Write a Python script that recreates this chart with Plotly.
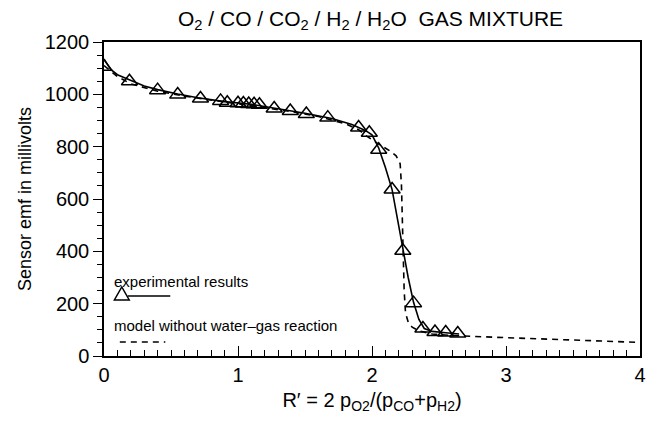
import plotly.graph_objects as go

# Experimental results (triangles)
exp_x = [0.0, 0.19, 0.40, 0.55, 0.72, 0.87, 0.92, 1.00, 1.04, 1.08, 1.12, 1.16,
         1.27, 1.39, 1.51, 1.67, 1.90, 1.98, 2.05, 2.15, 2.23, 2.31, 2.38, 2.47, 2.55, 2.64]
exp_y = [1105, 1050, 1016, 999, 984, 975, 968, 966, 965, 963, 962, 960,
         946, 936, 925, 911, 873, 853, 788, 636, 402, 202, 105, 92, 90, 86]

# Solid curve through experimental results
fit_x = [0.0, 0.05, 0.1, 0.2, 0.3, 0.4, 0.55, 0.7, 0.9, 1.1, 1.3, 1.5, 1.7, 1.85,
         1.95, 2.0, 2.05, 2.1, 2.15, 2.19, 2.23, 2.27, 2.31, 2.35, 2.39, 2.45, 2.55, 2.65]
fit_y = [1135, 1095, 1075, 1052, 1032, 1018, 1001, 987, 972, 962, 946, 928, 908, 885,
         862, 845, 795, 720, 636, 520, 402, 300, 205, 140, 105, 94, 89, 84]

# Model without water-gas reaction (dashed)
model_x = [0.0, 0.1, 0.2, 0.4, 0.6, 0.8, 1.0, 1.2, 1.4, 1.6, 1.8, 1.9, 1.96, 2.05,
           2.13, 2.18, 2.21, 2.22, 2.23, 2.24, 2.25, 2.27, 2.3, 2.35, 2.45, 2.6, 3.0, 3.5, 4.0]
model_y = [1110, 1068, 1040, 1012, 993, 978, 963, 950, 934, 915, 888, 865, 840, 810,
           785, 765, 735, 650, 450, 250, 165, 130, 110, 96, 84, 78, 70, 60, 52]

x_ticks = [0, 1, 2, 3, 4]
y_ticks = [0, 200, 400, 600, 800, 1000, 1200]

FONT = "Liberation Sans, Arial, sans-serif"

fig = go.Figure()
fig.add_trace(go.Scatter(x=model_x, y=model_y, mode="lines",
                         line=dict(color="black", width=1.6, dash="6px,5px"),
                         showlegend=False, hoverinfo="skip"))
fig.add_trace(go.Scatter(x=fit_x, y=fit_y, mode="lines",
                         line=dict(color="black", width=1.6),
                         showlegend=False, hoverinfo="skip"))
fig.add_trace(go.Scatter(x=exp_x, y=exp_y, mode="markers",
                         marker=dict(symbol="triangle-up-open", size=14, color="black",
                                     line=dict(color="black", width=1.5)),
                         showlegend=False))

fig.update_xaxes(range=[0, 4], tickvals=x_ticks, ticks="inside", ticklen=10, tickwidth=1.3,
                 tickcolor="black", showline=True, linecolor="black", linewidth=1.5,
                 mirror=True, showgrid=False, zeroline=False,
                 minor=dict(dtick=0.1, ticks="inside", ticklen=6, tickwidth=1.2, tickcolor="black", showgrid=False),
                 tickfont=dict(family=FONT, size=20, color="black"),
                 title=dict(text="R′ = 2 p<sub>O2</sub>/(p<sub>CO</sub>+p<sub>H2</sub>)",
                            font=dict(family=FONT, size=20, color="black"), standoff=8))
fig.update_yaxes(range=[0, 1200], tickvals=y_ticks, ticks="outside", ticklen=9, tickwidth=1.3,
                 tickcolor="black", showline=True, linecolor="black", linewidth=1.5,
                 mirror=True, showgrid=False, zeroline=False,
                 minor=dict(dtick=50, ticks="outside", ticklen=5, tickwidth=1.2, tickcolor="black", showgrid=False),
                 tickfont=dict(family=FONT, size=20, color="black"),
                 title=dict(text="Sensor emf in millivolts",
                            font=dict(family=FONT, size=18, color="black"), standoff=8))

# Legend drawn manually (paper coordinates)
pw, ph, x0, y0 = 542.0, 314.0, 104.0, 356.0
def px(v):
    return (v - x0) / pw
def py(v):
    return (y0 - v) / ph

shapes = [
    dict(type="path", xref="paper", yref="paper",
         path=f"M {px(114.5)},{py(300)} L {px(129.5)},{py(300)} L {px(122)},{py(287)} Z",
         line=dict(color="black", width=1.5)),
    dict(type="line", xref="paper", yref="paper", x0=px(128), x1=px(171), y0=py(296), y1=py(296),
         line=dict(color="black", width=1.6)),
    dict(type="line", xref="paper", yref="paper", x0=px(120), x1=px(166), y0=py(342), y1=py(342),
         line=dict(color="black", width=1.6, dash="6px,5px")),
]
annotations = [
    dict(text="experimental results", xref="paper", yref="paper", x=px(112), y=py(281),
         xanchor="left", yanchor="middle", showarrow=False,
         font=dict(family=FONT, size=15, color="black")),
    dict(text="model without water–gas reaction", xref="paper", yref="paper", x=px(112), y=py(325),
         xanchor="left", yanchor="middle", showarrow=False,
         font=dict(family=FONT, size=15, color="black")),
    dict(text="O<sub>2</sub> / CO / CO<sub>2</sub> / H<sub>2</sub> / H<sub>2</sub>O&nbsp;&nbsp;GAS MIXTURE",
         xref="paper", yref="paper", x=px(373), y=py(20), xanchor="center", yanchor="middle",
         showarrow=False, font=dict(family=FONT, size=21, color="black")),
]

fig.update_layout(width=658, height=422, margin=dict(l=104, r=12, t=42, b=66),
                  paper_bgcolor="white", plot_bgcolor="white",
                  shapes=shapes, annotations=annotations, showlegend=False)

fig.write_html("out.html")
